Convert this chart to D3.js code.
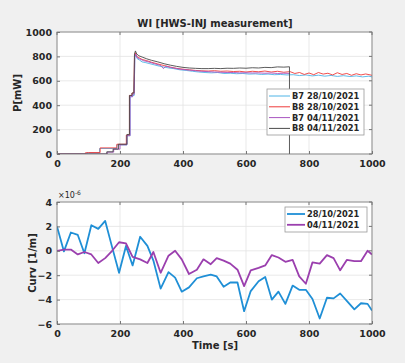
<!DOCTYPE html>
<html>
<head>
<meta charset="utf-8">
<script src="https://cdn.jsdelivr.net/npm/d3@7"></script>
<style>
  html, body { margin: 0; padding: 0; background: #f0f0f0; }
  svg { display: block; }
  text { font-family: "DejaVu Sans", sans-serif; font-weight: bold; fill: #262626; }
</style>
</head>
<body>
<svg id="chart" width="405" height="363"></svg>
<script>
// ---- top plot: power [mW] vs time [s]
var b7_28_t = [0,95,95,135,135,190,190,222,222,232,232,240,240,245,247,250,255,262,270,280,295,310,325,340,355,370,390,410,430,450,470,490,510,530,550,570,590,610,630,650,670,690,710,730,750,770,790,810,830,850,870,890,910,930,950,970,990,1000];
var b7_28_p = [0,0,10,10,45,45,75,75,150,150,470,470,480,480,790,810,780,770,755,750,740,730,720,712,705,700,690,685,678,672,668,665,668,660,662,658,660,655,657,652,655,650,652,648,650,643,648,640,646,638,644,636,642,635,640,632,638,632];

var b8_28_t = [0,90,90,100,137,137,190,190,220,220,230,230,238,238,244,246,249,253,260,270,285,300,320,340,360,380,400,420,440,460,480,500,520,540,560,580,600,620,640,660,680,700,720,740,755,770,785,800,815,830,845,860,875,890,905,920,935,950,965,980,1000];
var b8_28_p = [0,0,10,12,12,50,50,80,80,155,155,480,480,500,500,800,830,800,790,775,765,752,738,725,712,702,695,690,685,682,680,683,678,680,676,678,672,678,674,680,672,678,670,675,660,668,652,664,650,668,655,662,648,666,652,660,645,658,648,656,645];

var b7_04_t = [0,160,160,180,180,200,200,222,222,232,232,240,240,245,247,250,254,262,275,290,310,330,338,345,360,380,400,420,440,460,480,500,520,540,560,580,600,620,640,660,680,700,720,740];
var b7_04_p = [0,0,15,15,40,40,75,75,150,150,470,470,490,490,800,820,790,780,765,755,740,725,700,720,710,700,692,688,682,678,675,672,670,668,668,665,666,664,665,662,664,660,662,660];

var b8_04_t = [0,158,158,178,178,195,195,222,222,230,230,238,238,244,246,249,253,260,270,285,300,320,340,360,380,400,420,440,460,480,500,520,540,560,580,600,620,640,660,680,700,720,738,738];
var b8_04_p = [0,0,18,18,40,40,80,80,160,160,480,480,500,500,820,845,820,805,795,780,768,755,740,728,718,710,705,702,700,700,702,700,703,702,705,703,707,705,710,708,714,712,715,0];

var powerNames = ["B7 28/10/2021", "B8 28/10/2021", "B7 04/11/2021", "B8 04/11/2021"];
var powerColors = ["#4fb4e6", "#ee3b3b", "#a855c0", "#4a4a4a"];

// ---- bottom plot: curvature [x1e-6 1/m] vs time [s]
var curvTime = [0,22,44,66,87,109,131,153,175,197,219,240,264,287,306,329,354,375,396,419,444,465,488,507,529,550,573,594,615,640,661,682,703,725,748,769,790,811,834,857,878,899,920,944,965,986,1000];
var curv_28 = [2.0,-0.05,1.5,1.3,-0.2,2.1,1.8,2.45,0.3,-1.8,0.4,-1.2,1.15,0.4,-0.8,-3.1,-1.75,-2.2,-3.35,-3.0,-2.25,-2.1,-1.95,-2.1,-2.95,-2.6,-2.6,-4.95,-3.3,-2.5,-2.15,-4.0,-3.35,-4.35,-2.85,-3.2,-3.2,-3.95,-5.55,-3.85,-3.9,-3.5,-4.1,-4.8,-4.3,-4.35,-4.9];
var curv_04 = [0.0,0.1,0.1,-0.3,-0.1,-0.3,-1.0,-0.6,0.0,0.7,0.6,-0.5,-0.7,-1.0,-0.1,-1.8,-0.4,0.0,-0.7,-1.9,-1.55,-0.7,-1.1,-0.6,-0.8,-1.05,-1.55,-2.9,-1.6,-1.4,-1.2,-0.35,-0.55,-0.9,-0.75,-2.1,-2.7,-0.95,-1.05,-0.35,-0.6,-1.6,-0.75,-0.85,-0.85,0.0,-0.3];
var curvNames = ["28/10/2021", "04/11/2021"];
var curvColors = ["#1f8fd6", "#9b3fae"];

var timeTicks = [0, 200, 400, 600, 800, 1000];
var powerTicks = [0, 200, 400, 600, 800, 1000];
var curvTicks = [-6, -4, -2, 0, 2, 4];

var svg = d3.select("#chart");
svg.append("rect").attr("width", 405).attr("height", 363).attr("fill", "#f0f0f0");

var left = 57, right = 372;

function drawAxes(g, x, y, xTicks, yTicks, top, bottom) {
    g.append("rect")
        .attr("x", left).attr("y", top)
        .attr("width", right - left).attr("height", bottom - top)
        .attr("fill", "#ffffff");
    // grid
    g.selectAll(".gx").data(xTicks).enter().append("line")
        .attr("x1", d => x(d)).attr("x2", d => x(d))
        .attr("y1", top).attr("y2", bottom)
        .attr("stroke", "#e3e3e3").attr("stroke-width", 0.8);
    g.selectAll(".gy").data(yTicks).enter().append("line")
        .attr("x1", left).attr("x2", right)
        .attr("y1", d => y(d)).attr("y2", d => y(d))
        .attr("stroke", "#e3e3e3").attr("stroke-width", 0.8);
}

function drawFrame(g, x, y, xTicks, yTicks, top, bottom) {
    var xa = d3.axisBottom(x).tickValues(xTicks).tickFormat(d3.format("d")).tickSizeInner(-3).tickSizeOuter(0).tickPadding(6);
    var ya = d3.axisLeft(y).tickValues(yTicks).tickFormat(d3.format("d")).tickSizeInner(-3).tickSizeOuter(0).tickPadding(5);
    var gx = g.append("g").attr("transform", "translate(0," + bottom + ")").call(xa);
    var gy = g.append("g").attr("transform", "translate(" + left + ",0)").call(ya);
    [gx, gy].forEach(function (a) {
        a.select(".domain").remove();
        a.selectAll(".tick line").attr("stroke", "#777");
        a.selectAll(".tick text").style("font-size", "9.5px").attr("fill", "#262626")
            .style("font-family", "DejaVu Sans").style("font-weight", "bold");
    });
    // right/top ticks
    g.selectAll(".tt").data(xTicks).enter().append("line")
        .attr("x1", d => x(d)).attr("x2", d => x(d))
        .attr("y1", top).attr("y2", top + 3).attr("stroke", "#777");
    g.selectAll(".rt").data(yTicks).enter().append("line")
        .attr("x1", right).attr("x2", right - 3)
        .attr("y1", d => y(d)).attr("y2", d => y(d)).attr("stroke", "#777");
    g.append("rect")
        .attr("x", left).attr("y", top)
        .attr("width", right - left).attr("height", bottom - top)
        .attr("fill", "none").attr("stroke", "#777").attr("stroke-width", 0.8);
}

// ===== top plot
var top1 = 32, bot1 = 154;
var x1 = d3.scaleLinear().domain([0, 1000]).range([left, right]);
var y1 = d3.scaleLinear().domain([0, 1000]).range([bot1, top1]);
var g1 = svg.append("g");
drawAxes(g1, x1, y1, timeTicks, powerTicks, top1, bot1);

g1.append("clipPath").attr("id", "clip1").append("rect")
    .attr("x", left).attr("y", top1).attr("width", right - left).attr("height", bot1 - top1);

var powerSeries = [
    { t: b7_28_t, p: b7_28_p },
    { t: b8_28_t, p: b8_28_p },
    { t: b7_04_t, p: b7_04_p },
    { t: b8_04_t, p: b8_04_p }
];
var line1 = d3.line().x(d => x1(d[0])).y(d => y1(d[1]));
var plot1 = g1.append("g").attr("clip-path", "url(#clip1)");
powerSeries.forEach(function (s, i) {
    plot1.append("path")
        .datum(s.t.map((t, j) => [t, s.p[j]]))
        .attr("d", line1)
        .attr("fill", "none")
        .attr("stroke", powerColors[i])
        .attr("stroke-width", 0.9);
});
drawFrame(g1, x1, y1, timeTicks, powerTicks, top1, bot1);

svg.append("text").attr("x", 215).attr("y", 27).attr("text-anchor", "middle")
    .style("font-size", "10px").text("WI [HWS-INJ measurement]");
svg.append("text").attr("transform", "translate(21,93) rotate(-90)")
    .attr("text-anchor", "middle").style("font-size", "10px").text("P[mW]");

// legend top
var lg1 = svg.append("g");
lg1.append("rect").attr("x", 267).attr("y", 89).attr("width", 97).attr("height", 46)
    .attr("fill", "#ffffff").attr("stroke", "#999").attr("stroke-width", 0.8);
powerNames.forEach(function (n, i) {
    var yy = 96 + i * 10.8;
    lg1.append("line").attr("x1", 269).attr("x2", 290).attr("y1", yy).attr("y2", yy)
        .attr("stroke", powerColors[i]).attr("stroke-width", 1);
    lg1.append("text").attr("x", 292).attr("y", yy + 3).style("font-size", "8.3px").text(n);
});

// ===== bottom plot
var top2 = 202, bot2 = 324;
var x2 = d3.scaleLinear().domain([0, 1000]).range([left, right]);
var y2 = d3.scaleLinear().domain([-6, 4]).range([bot2, top2]);
var g2 = svg.append("g");
drawAxes(g2, x2, y2, timeTicks, curvTicks, top2, bot2);

g2.append("clipPath").attr("id", "clip2").append("rect")
    .attr("x", left).attr("y", top2).attr("width", right - left).attr("height", bot2 - top2);
var line2 = d3.line().x(d => x2(d[0])).y(d => y2(d[1]));
var plot2 = g2.append("g").attr("clip-path", "url(#clip2)");
[curv_28, curv_04].forEach(function (vals, i) {
    plot2.append("path")
        .datum(curvTime.map((t, j) => [t, vals[j]]))
        .attr("d", line2)
        .attr("fill", "none")
        .attr("stroke", curvColors[i])
        .attr("stroke-width", 1.8)
        .attr("stroke-linejoin", "round");
});
drawFrame(g2, x2, y2, timeTicks, curvTicks, top2, bot2);

// exponent label
var ex = svg.append("text").attr("x", 58).attr("y", 198).style("font-size", "8px").style("font-weight", "normal").attr("fill", "#444");
ex.append("tspan").text("\u00d710");
ex.append("tspan").attr("dy", -3).style("font-size", "6px").text("-6");

svg.append("text").attr("transform", "translate(36,263) rotate(-90)")
    .attr("text-anchor", "middle").style("font-size", "10px").text("Curv [1/m]");
svg.append("text").attr("x", 215).attr("y", 349).attr("text-anchor", "middle")
    .style("font-size", "10px").text("Time [s]");

// legend bottom
var lg2 = svg.append("g");
lg2.append("rect").attr("x", 285).attr("y", 207).attr("width", 82).attr("height", 25)
    .attr("fill", "#ffffff").attr("stroke", "#999").attr("stroke-width", 0.8);
curvNames.forEach(function (n, i) {
    var yy = 214 + i * 10.8;
    lg2.append("line").attr("x1", 287).attr("x2", 305).attr("y1", yy).attr("y2", yy)
        .attr("stroke", curvColors[i]).attr("stroke-width", 1.8);
    lg2.append("text").attr("x", 307).attr("y", yy + 3).style("font-size", "8.3px").text(n);
});
</script>
</body>
</html>
